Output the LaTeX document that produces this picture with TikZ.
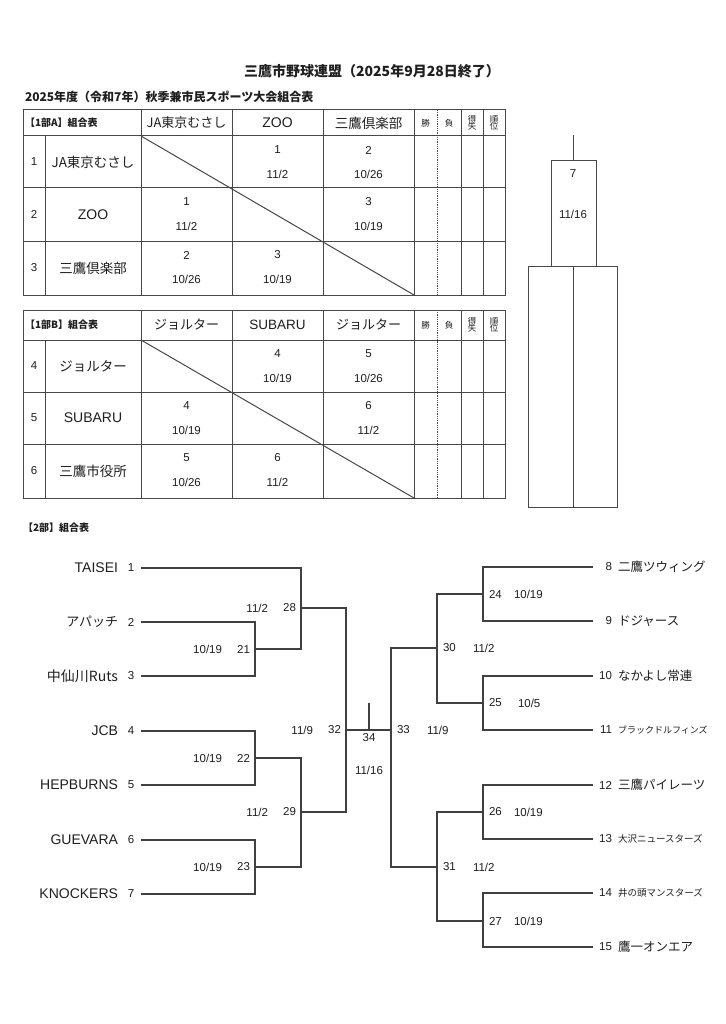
\documentclass[tikz,border=0pt]{standalone}
\usepackage{fontspec}
\setmainfont{Liberation Sans}
\newfontfamily\jp{Noto Sans CJK JP}
\newcommand\fs[1]{\fontsize{#1}{#1}\selectfont}
\tikzset{
  tl/.style={draw=black!72, line width=1pt},
  ln/.style={draw=black!75, line width=1.1pt},
  txt/.style={inner sep=0pt, outer sep=0pt, text=black!88},
  dt/.style={txt, font=\fs{11.5}},
  hd/.style={txt, font=\jp\fs{8.5}, align=center},
  jbig/.style={txt, font=\jp\fs{13.5}},
  rname/.style={txt, font=\jp\fs{12.5}, anchor=west},
  rsmall/.style={txt, font=\jp\fs{9.5}, anchor=west},
  rtiny/.style={txt, font=\jp\fs{9}, anchor=west},
  rnum/.style={txt, font=\fs{11.5}, anchor=east},
}
\newcommand\tabgrid[5]{%
  \draw[tl] (23,#1) rectangle (505,#5);
  \foreach \xx in {141,232,323,414,461,483} \draw[tl] (\xx,#1) -- (\xx,#5);
  \draw[tl] (45,#2) -- (45,#5);
  \draw[draw=black!70, densely dotted, line width=0.8pt] (437,#1) -- (437,#5);
  \foreach \yy in {#2,#3,#4} \draw[tl] (23,\yy) -- (505,\yy);
  \draw[tl] (141,#2) -- (414,#5);
}
\newcommand\cellpair[5]{%
  \node[dt] (#1a) at (#2,#3) {#4};
  \node[dt] (#1b) at (#2,#3+24) {#5};
}
\begin{document}
\begin{tikzpicture}[x=1pt,y=-1pt]
\useasboundingbox (0,0) rectangle (725,1024);
\fill[white] (0,0) rectangle (725,1024);

% titles
\node[txt, font=\jp\bfseries\fs{14}] (title) at (372,71) {三鷹市野球連盟（2025年9月28日終了）};
\node[txt, font=\jp\bfseries\fs{12}, anchor=west] (sub) at (25,97) {2025年度（令和7年）秋季兼市民スポーツ大会組合表};

% ---------- table A ----------
\tabgrid{110}{136}{188}{241}{295}
\node[txt, font=\jp\bfseries\fs{10}, anchor=west] (ahd) at (25,123) {【1部A】組合表};
\node[jbig, font=\jp\fs{13}] (ah1) at (186.5,123) {JA東京むさし};
\node[txt, font=\fs{14}] (ah2) at (277.5,123) {ZOO};
\node[jbig] (ah3) at (368.5,123) {三鷹倶楽部};
\node[hd] (aw) at (425.5,123) {勝};
\node[hd] (al) at (449,123) {負};
\node[hd] (ad) at (472,123) {得\\[-1.5pt]失};
\node[hd] (ar) at (494,123) {順\\[-1.5pt]位};
\node[dt] (an1) at (34,162) {1};
\node[dt] (an2) at (34,214.5) {2};
\node[dt] (an3) at (34,268) {3};
\node[jbig] (at1) at (93,162) {JA東京むさし};
\node[txt, font=\fs{14}] (at2) at (93,214.5) {ZOO};
\node[jbig] (at3) at (93,268) {三鷹倶楽部};
\cellpair{a12}{277.5}{150}{1}{11/2}
\cellpair{a13}{368.5}{150}{2}{10/26}
\cellpair{a21}{186.5}{202}{1}{11/2}
\cellpair{a23}{368.5}{202}{3}{10/19}
\cellpair{a31}{186.5}{255}{2}{10/26}
\cellpair{a32}{277.5}{255}{3}{10/19}

% ---------- table B ----------
\tabgrid{310}{340}{392}{444}{498}
\node[txt, font=\jp\bfseries\fs{10}, anchor=west] (bhd) at (25,325) {【1部B】組合表};
\node[jbig, font=\jp\fs{13}] (bh1) at (186.5,325) {ジョルター};
\node[txt, font=\fs{13.5}] (bh2) at (277.5,325) {SUBARU};
\node[jbig, font=\jp\fs{13}] (bh3) at (368.5,325) {ジョルター};
\node[hd] (bw) at (425.5,325) {勝};
\node[hd] (bl) at (449,325) {負};
\node[hd] (bd) at (472,325) {得\\[-1.5pt]失};
\node[hd] (br) at (494,325) {順\\[-1.5pt]位};
\node[dt] (bn4) at (34,366) {4};
\node[dt] (bn5) at (34,418) {5};
\node[dt] (bn6) at (34,471) {6};
\node[jbig] (bt4) at (93,366) {ジョルター};
\node[txt, font=\fs{14}] (bt5) at (93,418) {SUBARU};
\node[jbig] (bt6) at (93,471) {三鷹市役所};
\cellpair{b45}{277.5}{354}{4}{10/19}
\cellpair{b46}{368.5}{354}{5}{10/26}
\cellpair{b54}{186.5}{406}{4}{10/19}
\cellpair{b56}{368.5}{406}{6}{11/2}
\cellpair{b64}{186.5}{458}{5}{10/26}
\cellpair{b65}{277.5}{458}{6}{11/2}

% ---------- right final box ----------
\draw[tl] (573,135) -- (573,161);
\draw[tl] (551,161) rectangle (596,266);
\draw[tl] (528,266) rectangle (617,507);
\draw[tl] (573,266) -- (573,507);
\node[dt] (f7) at (573,174) {7};
\node[dt] (f7d) at (573,214) {11/16};

% ---------- part 2 ----------
\node[txt, font=\jp\bfseries\fs{10}, anchor=west] (p2) at (23,528) {【2部】組合表};

% left teams
\foreach \n/\y/\nm/\f in {1/568/TAISEI/\fs{14},2/622/アパッチ/\jp\fs{13},3/676/中仙川Ruts/\jp\fs{14},4/731/JCB/\fs{14},5/785/HEPBURNS/\fs{14},6/840/GUEVARA/\fs{14},7/894/KNOCKERS/\fs{14}}{
  \node[txt, font=\f, anchor=east] (ln\n) at (118,\y) {\nm};
  \node[dt] (lno\n) at (131,\y) {\n};
  \coordinate (a\n) at (141,\y);
}
% right teams
\foreach \n/\y/\nm/\s in {8/567/二鷹ツウィング/rname,9/621/ドジャース/rname,10/676/なかよし常連/rname,11/730/ブラックドルフィンズ/rtiny,12/785/三鷹パイレーツ/rname,13/839/大沢ニュースターズ/rsmall,14/893/井の頭マンスターズ/rsmall,15/947/鷹一オンエア/rname}{
  \node[rnum] (rno\n) at (612,\y) {\n};
  \node[\s] (rn\n) at (618,\y) {\nm};
  \coordinate (b\n) at (593,\y);
}

% match points
\coordinate (m21) at (255,649);
\coordinate (m22) at (255,758);
\coordinate (m23) at (255,867);
\coordinate (m28) at (301,608);
\coordinate (m29) at (301,812);
\coordinate (m32) at (346,730);
\coordinate (m34) at (369,730);
\coordinate (m34t) at (369,703);
\coordinate (m33) at (391,730);
\coordinate (m24) at (483,594);
\coordinate (m25) at (483,703);
\coordinate (m26) at (483,812);
\coordinate (m27) at (483,921);
\coordinate (m30) at (437,648);
\coordinate (m31) at (437,867);

% bracket lines
\draw[ln] (a2) -| (m21) |- (a3);
\draw[ln] (a1) -| (m28) |- (m21);
\draw[ln] (a4) -| (m22) |- (a5);
\draw[ln] (a6) -| (m23) |- (a7);
\draw[ln] (m22) -| (m29) |- (m23);
\draw[ln] (m28) -| (m32) |- (m29);
\draw[ln] (m32) -- (m33);
\draw[ln] (m34t) -- (m34);
\draw[ln] (b8) -| (m24) |- (b9);
\draw[ln] (b10) -| (m25) |- (b11);
\draw[ln] (b12) -| (m26) |- (b13);
\draw[ln] (b14) -| (m27) |- (b15);
\draw[ln] (m24) -| (m30) |- (m25);
\draw[ln] (m26) -| (m31) |- (m27);
\draw[ln] (m30) -| (m33) |- (m31);

% left match labels
\foreach \m/\d in {21/10\slash 19,22/10\slash 19,23/10\slash 19,28/11\slash 2,29/11\slash 2,32/11\slash 9}{
  \node[dt, anchor=east] (lm\m) at ([xshift=-5pt]m\m) {\m};
  \node[dt, anchor=east] (ld\m) at ([xshift=-33pt]m\m) {\d};
}
% right match labels
\foreach \m/\d/\o in {24/10\slash 19/31,25/10\slash 5/35,26/10\slash 19/31,27/10\slash 19/31,30/11\slash 2/36,31/11\slash 2/36,33/11\slash 9/36}{
  \node[dt, anchor=west] (rm\m) at ([xshift=6pt]m\m) {\m};
  \node[dt, anchor=west] (rd\m) at ([xshift=\o pt]m\m) {\d};
}
\node[dt] (l34) at (369,738) {34};
\node[dt] (d34) at (369,770) {11/16};
\end{tikzpicture}
\end{document}
